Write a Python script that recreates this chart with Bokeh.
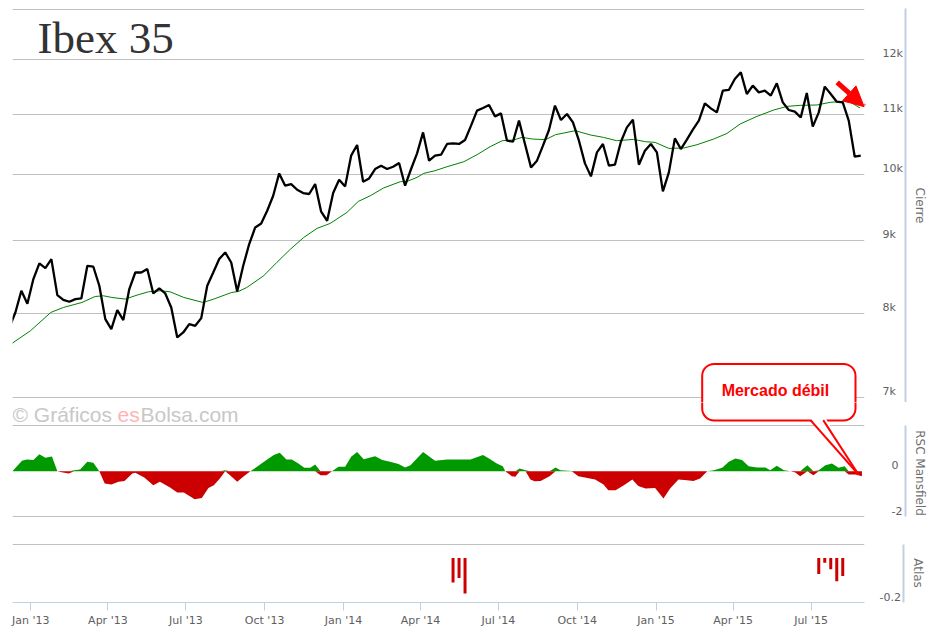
import math
import pandas as pd
from bokeh.plotting import figure
from bokeh.layouts import column
from bokeh.models import (Range1d, FixedTicker, CustomJSTickFormatter, LinearAxis, DatetimeAxis,
                          MonthsTicker, DatetimeTickFormatter, Label, BoxAnnotation, PolyAnnotation,
                          Arrow, NormalHead, Grid)
from bokeh.embed import file_html
from bokeh.resources import INLINE

# ---------------- data ----------------
# weekly closes (Fridays), week 0 = 2012-12-07
START = "2012-12-07"
close = [7829, 8017, 8300, 8130, 8456, 8670, 8606, 8730, 8242, 8180,
         8155, 8190, 8198, 8637, 8624, 8366, 7932, 7807, 8047, 7920,
         8322, 8545, 8545, 8592, 8264, 8330, 8264, 8081, 7703, 7765,
         7869, 7848, 7945, 8366, 8545, 8730, 8823, 8683, 8290, 8637,
         8942, 9182, 9241, 9431, 9659, 10010, 9815, 9841, 9752, 9701,
         9686, 9841, 9416, 9281, 9701, 9909, 9804, 10297, 10474, 9878,
         9930, 10080, 10133, 10080, 10117, 10177, 9815, 10080, 10335, 10687,
         10215, 10297, 10313, 10491, 10501, 10491, 10558, 10802, 11064, 11112,
         11165, 10964, 11016, 10546, 10529, 10889, 10491, 10106, 10215, 10463,
         10728, 11153, 10901, 11006, 10859, 10546, 10171, 9962, 10351, 10491,
         10133, 10150, 10529, 10773, 10906, 10150, 10379, 10491, 10351, 9726,
         10026, 10585, 10407, 10563, 10733, 10889, 11194, 11105, 11034, 11423,
         11436, 11639, 11762, 11363, 11515, 11392, 11423, 11333, 11557, 11212,
         11076, 11046, 10946, 11381, 10785, 11034, 11497, 11363, 11224, 11212,
         10889, 10280, 10297]

# moving average (green), read at sample positions (weeks since START)
ma_week = [0.4, 3.5, 6.9, 9.0, 12.1, 14.3, 15.7, 17.1, 19.3, 21.3, 23.2, 25.2, 26.8, 29.1, 32.3,
           34.1, 36.0, 37.1, 38.2, 39.6, 42.4, 44.6, 46.9, 49.1, 51.3, 53.5, 56.3, 58.2, 60.2,
           62.4, 65.2, 66.3, 68.0, 69.1, 71.0, 73.0, 75.8, 78.0, 80.2, 82.2, 84.1, 85.5, 87.2,
           89.4, 91.1, 94.4, 96.9, 99.1, 101.3, 104.1, 106.1, 107.7, 110.0, 112.5, 114.7, 117.5,
           119.7, 121.9, 124.7, 127.5, 129.7, 131.9, 134.7, 136.9, 139.1, 140.3, 141.9]
ma_vals = [7629, 7785, 8017, 8081, 8146, 8224, 8233, 8211, 8190, 8242, 8286, 8300, 8286, 8211, 8146,
           8190, 8246, 8277, 8290, 8343, 8500, 8683, 8871, 9037, 9168, 9241, 9405, 9572, 9659,
           9779, 9878, 9882, 9946, 10010, 10053, 10117, 10198, 10313, 10446, 10546, 10558, 10602, 10575,
           10563, 10648, 10716, 10643, 10602, 10546, 10568, 10529, 10518, 10417, 10424, 10479, 10575,
           10670, 10832, 10964, 11076, 11140, 11158, 11165, 11212, 11230, 11212, 11112]

# RSC Mansfield (weeks since START)
rsc_week = [0.5, 2.1, 2.9, 4.0, 5.0, 6.0, 7.1, 8.0, 8.5, 9.9, 10.8, 11.8, 13.0, 14.0, 15.0, 15.9,
            17.0, 18.2, 19.2, 20.5, 21.0, 22.5, 24.0, 25.1, 26.8, 28.0, 29.1, 30.9, 32.1, 33.2,
            34.1, 35.1, 36.0, 36.8, 38.0, 39.1, 40.2, 41.3, 43.0, 44.1, 45.1, 46.2, 47.1, 48.2,
            49.2, 50.2, 51.0, 51.9, 52.9, 53.8, 54.9, 56.0, 57.0, 58.0, 59.1, 60.2, 61.0, 62.2,
            63.5, 64.9, 66.0, 66.9, 69.0, 71.0, 73.0, 74.7, 76.9, 79.0, 80.2, 81.3, 82.3, 82.7,
            83.8, 84.4, 85.1, 86.1, 86.9, 87.6, 88.6, 90.1, 91.1, 91.9, 93.8, 94.9, 97.7, 99.1,
            99.9, 101.1, 102.5, 103.9, 104.9, 106.1, 107.7, 109.1, 110.2, 111.6, 113.0, 114.1,
            115.2, 116.4, 117.5, 118.9, 120.0, 121.1, 122.2, 123.3, 124.7, 126.1, 126.9, 128.0,
            129.2, 130.3, 131.1, 131.9, 133.1, 134.1, 135.0, 136.1, 137.2, 138.3, 139.3, 140.0,
            141.1, 142.2]
rsc_vals = [0, 0.46, 0.51, 0.49, 0.74, 0.59, 0.65, 0, -0.04, -0.10, 0.04, 0.07, 0.41, 0.37, 0, -0.54,
            -0.59, -0.47, -0.43, -0.10, -0.07, -0.28, -0.62, -0.47, -0.72, -0.94, -0.94, -1.24, -1.18, -0.74,
            -0.62, -0.32, 0.04, -0.18, -0.47, -0.22, 0, 0.19, 0.51, 0.71, 0.81, 0.51, 0.51, 0.34,
            0.15, 0.15, 0.29, -0.18, -0.18, 0, 0.19, 0.19, 0.63, 0.84, 0.53, 0.60, 0.66, 0.49,
            0.41, 0.31, 0.16, 0.26, 0.84, 0.46, 0.51, 0.51, 0.51, 0.71, 0.53, 0.34, 0.22, 0,
            -0.22, -0.25, 0.12, 0.04, -0.37, -0.44, -0.43, -0.22, 0.16, 0.04, 0.01, -0.22, -0.37, -0.59,
            -0.84, -0.84, -0.62, -0.37, -0.66, -0.76, -0.74, -1.21, -0.76, -0.37, -0.40, -0.43,
            -0.32, 0, 0.04, 0.15, 0.41, 0.56, 0.49, 0.22, 0.16, 0.16, 0.04, 0.24,
            0.04, 0, -0.06, -0.22, 0.26, -0.18, 0.04, 0.26, 0.34, 0.15, 0.22, -0.15,
            -0.15, -0.22]

# Atlas bars (weeks since START)
atlas_week = [74, 75, 76, 135, 136, 137, 138, 139]
atlas_vals = [-0.11, -0.09, -0.16, -0.072, -0.021, -0.051, -0.104, -0.081]

price_grid = [7000, 8000, 9000, 10000, 11000, 12000, 13000]
price_labels = [7000, 8000, 9000, 10000, 11000, 12000]
rsc_labels = [0, -2]
atlas_labels = [-0.2]

# ---------------- helpers ----------------
T0 = pd.Timestamp(START)
J13 = pd.Timestamp("2013-01-01")


def wk(w):
    return (T0 + pd.to_timedelta(w * 7, unit="D")).value / 1e6


def day(k):
    return (J13 + pd.to_timedelta(k, unit="D")).value / 1e6


close_x = [wk(i) for i in range(len(close))]
ma_x = [wk(w) for w in ma_week]
rsc_x = [wk(w) for w in rsc_week]
rsc_pos = [max(v, 0) for v in rsc_vals]
rsc_neg = [min(v, 0) for v in rsc_vals]
atlas_x = [wk(w) for w in atlas_week]

W = 930
FONT = "DejaVu Sans"
LBL = "#606060"
TTL = "#707070"
AXC = "#c0d0e0"
GRID = "#c0c0c0"
SHIFT = 6  # label offset above gridline (px)

x_range = Range1d(start=day(-21.37), end=day(973.4))


def base_fig(h, y_range, log=False, top=0, bottom=0):
    p = figure(width=W, height=h, x_range=x_range, y_range=y_range,
               y_axis_type="log" if log else "linear",
               x_axis_location=None, y_axis_location=None,
               toolbar_location=None, output_backend="svg",
               min_border_left=12, min_border_right=66, min_border_top=top, min_border_bottom=bottom)
    p.outline_line_color = None
    p.xgrid.visible = False
    p.ygrid.visible = False
    return p


def add_right_axes(p, ticks, code, standoff, title, bounds=None):
    inner = LinearAxis(ticker=FixedTicker(ticks=ticks), formatter=CustomJSTickFormatter(code=code),
                       axis_line_color=None, major_tick_line_color=None, minor_tick_line_color=None,
                       major_tick_out=0, major_tick_in=0, minor_tick_out=0, minor_tick_in=0,
                       major_label_standoff=standoff, major_label_text_font=FONT,
                       major_label_text_font_size="11px", major_label_text_color=LBL)
    p.add_layout(inner, "right")
    outer = LinearAxis(ticker=FixedTicker(ticks=[]), axis_line_color=AXC, axis_line_width=2,
                       major_tick_line_color=None, minor_tick_line_color=None,
                       major_tick_out=0, major_tick_in=0, minor_tick_out=0, minor_tick_in=0,
                       major_label_standoff=0, axis_label=title, axis_label_standoff=7,
                       axis_label_text_font=FONT, axis_label_text_font_size="12px",
                       axis_label_text_font_style="normal", axis_label_text_color=TTL)
    if bounds is not None:
        outer.bounds = bounds
    p.add_layout(outer, "right")


# ---------------- main panel ----------------
TOP = 8
FA = 394                      # frame height
ya = Range1d(6943.6, 13024)
pa = base_fig(FA + TOP, ya, log=True, top=TOP)
px_ln = FA / math.log(13024 / 6943.6)
pa.add_layout(Grid(dimension=1, ticker=FixedTicker(ticks=price_grid), grid_line_color=GRID))
pa.line(ma_x, ma_vals, line_color="#008000", line_width=1)
pa.line(close_x, close, line_color="black", line_width=2.3)
add_right_axes(pa, [v * math.exp(SHIFT / px_ln) for v in price_labels],
               "return Math.round(tick/1000) + 'k';", 18, "Cierre")

pa.add_layout(Label(x=day(7.8), y=12112, y_offset=16, text="Ibex 35", text_font="Liberation Serif",
                    text_font_size="45px", text_color="#333333", text_baseline="alphabetic"))
pa.add_layout(Arrow(end=NormalHead(size=20, fill_color="#ff0000", line_color="#ff0000"),
                    x_start=day(941.5), y_start=11575, x_end=day(973.0), y_end=11134,
                    line_color="#ff0000", line_width=5))
pa.add_layout(BoxAnnotation(left=day(783.9), right=day(962.9), top=7385, bottom=6745,
                            fill_color="white", fill_alpha=1, line_color="#ff0000", line_alpha=1,
                            line_width=2, border_radius=12))
pa.add_layout(Label(x=day(869.4), y=7012, y_offset=6, text="Mercado débil", text_font="Liberation Sans",
                    text_font_size="16px", text_font_style="bold", text_color="#ff0000",
                    text_align="center", text_baseline="alphabetic"))

# ---------------- RSC panel ----------------
HB = 141
yb = Range1d(-3.190, 3.027)
pb = base_fig(HB, yb)
px_b = HB / (3.027 + 3.190)
pb.add_layout(Grid(dimension=1, ticker=FixedTicker(ticks=[2, -2]), grid_line_color=GRID))
pb.varea(x=rsc_x, y1=0, y2=rsc_pos, fill_color="#009900")
pb.varea(x=rsc_x, y1=0, y2=rsc_neg, fill_color="#cc0000")
add_right_axes(pb, [v + SHIFT / px_b for v in rsc_labels],
               "return Math.round(tick).toString();", 27, "RSC Mansfield", bounds=(-2, 2))

pb.add_layout(BoxAnnotation(left=day(783.9), right=day(962.9), top=4.762, bottom=2.235,
                            fill_color="white", fill_alpha=1, line_color="#ff0000", line_alpha=1,
                            line_width=2, border_radius=12))
pb.add_layout(PolyAnnotation(xs=[day(908.5), day(927.0), day(966.4)], ys=[2.40, 2.40, -0.146],
                             fill_color="white", fill_alpha=1, line_color=None))
pb.add_layout(Arrow(end=None, x_start=day(910.3), y_start=2.25, x_end=day(966.4), y_end=-0.146,
                    line_color="#ff0000", line_width=2))
pb.add_layout(Arrow(end=None, x_start=day(925.2), y_start=2.25, x_end=day(966.4), y_end=-0.146,
                    line_color="#ff0000", line_width=2))
for txt, k, col in [("© Gráficos", -21.3, "#c8c8c8"), ("es", 101.2, "#ffb3b3"), ("Bolsa.com", 128.1, "#c8c8c8")]:
    pb.add_layout(Label(x=day(k), y=2.134, y_offset=8, text=txt, text_font="Liberation Sans",
                        text_font_size="21px", text_color=col, text_baseline="alphabetic"))

# ---------------- Atlas panel ----------------
HC = 86
yc = Range1d(-0.2, 0.0651)
pc = base_fig(HC, yc, bottom=24)
px_c = (HC - 24) / 0.2651
pc.add_layout(Grid(dimension=1, ticker=FixedTicker(ticks=[0.06]), grid_line_color=GRID))
pc.vbar(x=atlas_x, top=0, bottom=atlas_vals, width=3.5 * 86400000, fill_color="#cc0000", line_color=None)
add_right_axes(pc, [v + SHIFT / px_c for v in atlas_labels],
               "return tick.toFixed(1);", 15, "Atlas", bounds=(-0.2, 0.06))

fmt = "%b '%y"
xaxis = DatetimeAxis(ticker=MonthsTicker(months=[0, 3, 6, 9]),
                     formatter=DatetimeTickFormatter(months=fmt, days=fmt, years=fmt),
                     axis_line_color=AXC, major_tick_line_color=AXC, minor_tick_line_color=None,
                     major_tick_out=8, major_tick_in=0, minor_tick_out=0, minor_tick_in=0,
                     major_label_standoff=3, major_label_text_font=FONT,
                     major_label_text_font_size="11px", major_label_text_color=LBL)
pc.add_layout(xaxis, "below")

layout = column(pa, pb, pc, spacing=0)
open("out.html", "w").write(file_html(layout, INLINE))
